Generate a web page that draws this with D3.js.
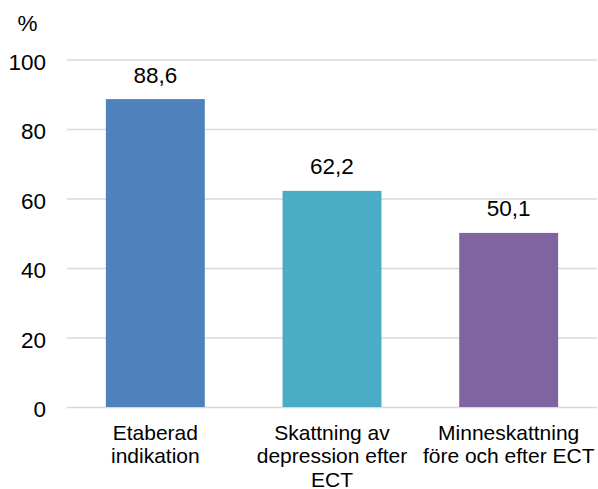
<!DOCTYPE html>
<html>
<head>
<meta charset="utf-8">
<script src="https://cdn.jsdelivr.net/npm/d3@7"></script>
<style>
  html, body { margin: 0; padding: 0; background: #fff; }
  svg { display: block; font-family: "Liberation Sans", Arial, sans-serif; }
</style>
</head>
<body>
<svg id="chart" width="598" height="489"></svg>
<script>
const categories = ["Etaberad indikation", "Skattning av depression efter ECT", "Minneskattning före och efter ECT"];
const categoryLines = [["Etaberad", "indikation"], ["Skattning av", "depression efter", "ECT"], ["Minneskattning", "före och efter ECT"]];
const values = [88.6, 62.2, 50.1];
const valueLabels = ["88,6", "62,2", "50,1"];
const colors = ["#4f81bd", "#4bacc6", "#8064a2"];
const yTicks = [0, 20, 40, 60, 80, 100];
const yUnit = "%";

(function () {
const svg = d3.select("#chart");
const mLeft = 67, mRight = 597, mTop = 59.5, mBottom = 407;

const x = d3.scaleBand().domain(categories).range([mLeft, mRight]).paddingInner(0.44).paddingOuter(0.22);
const y = d3.scaleLinear().domain([0, 100]).range([mBottom, mTop]);

// y axis with gridlines
const yAxis = svg.append("g").attr("transform", `translate(${mLeft},0)`)
  .call(d3.axisLeft(y).tickValues(yTicks).tickSize(-(mRight - mLeft)).tickPadding(21).tickFormat(d3.format("d")));
yAxis.select(".domain").remove();
yAxis.selectAll(".tick line").attr("stroke", "#d9d9d9").attr("stroke-width", 1.5);
yAxis.selectAll(".tick text").attr("font-size", 22.5).attr("fill", "#000").attr("dy", "0.43em")
  .attr("font-family", "Liberation Sans, Arial, sans-serif");

// unit label
svg.append("text").attr("x", 27.5).attr("y", 31).attr("text-anchor", "middle")
  .attr("font-size", 22.5).attr("fill", "#000").text(yUnit);

// bars
svg.append("g").selectAll("rect").data(values).join("rect")
  .attr("x", (d, i) => x(categories[i]))
  .attr("y", d => y(d))
  .attr("width", x.bandwidth())
  .attr("height", d => y(0) - y(d))
  .attr("fill", (d, i) => colors[i]);

// value labels
svg.append("g").selectAll("text").data(values).join("text")
  .attr("x", (d, i) => x(categories[i]) + x.bandwidth() / 2)
  .attr("y", d => y(d) - 16.5)
  .attr("text-anchor", "middle")
  .attr("font-size", 22.5)
  .attr("fill", "#000")
  .text((d, i) => valueLabels[i]);

// x axis labels
const xAxis = svg.append("g").attr("transform", `translate(0,${mBottom})`)
  .call(d3.axisBottom(x).tickSize(0).tickFormat(""));
xAxis.select(".domain").remove();
xAxis.selectAll(".tick").each(function(d, i) {
  const t = d3.select(this).append("text")
    .attr("text-anchor", "middle").attr("fill", "#000").attr("font-size", 21)
    .attr("font-family", "Liberation Sans, Arial, sans-serif");
  categoryLines[i].forEach((line, j) => {
    t.append("tspan").attr("x", 0).attr("y", 32.5 + j * 23.5).text(line);
  });
});
})();
</script>
</body>
</html>
